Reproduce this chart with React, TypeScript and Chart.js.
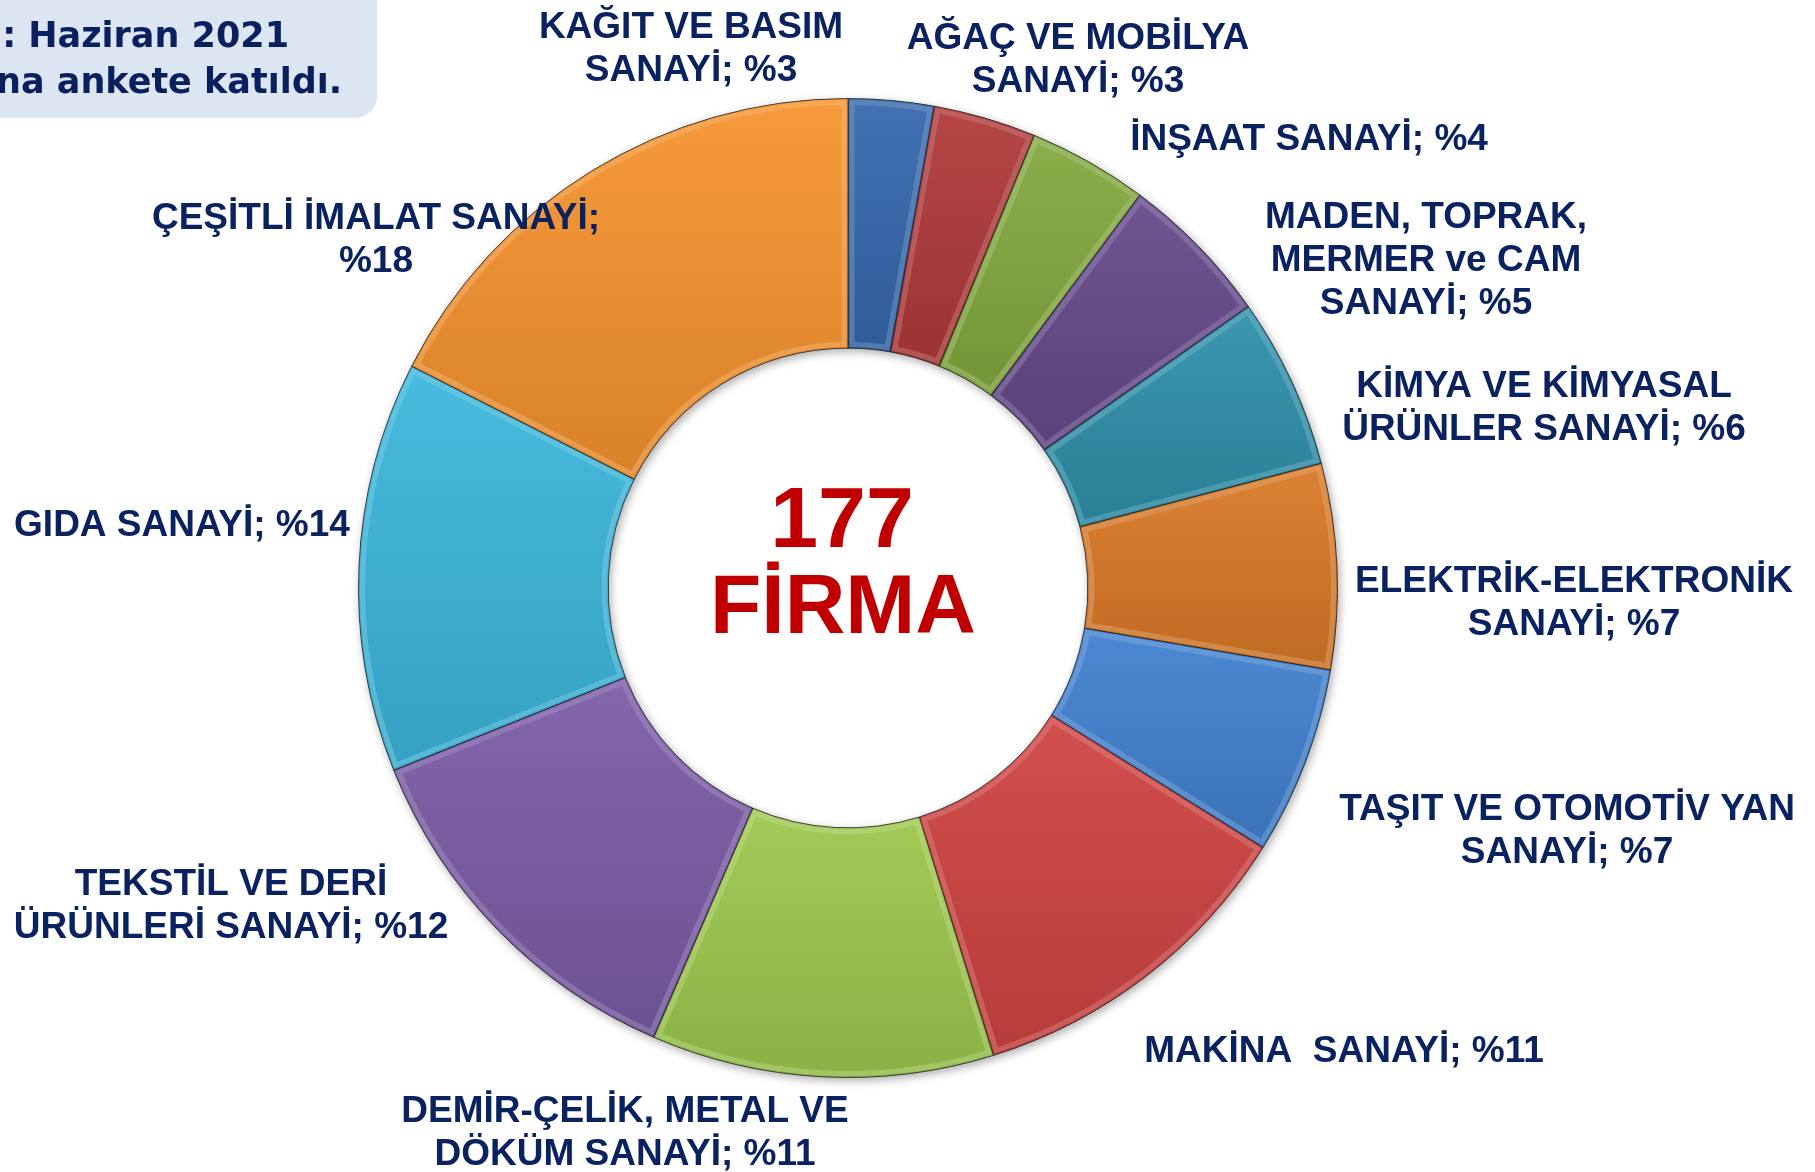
import React, { useEffect, useRef } from "react";
import { Chart, registerables } from "chart.js";
Chart.register(...registerables);

// ---- data ----
const TOTAL_LABEL = "177";
const CENTER_WORD = "FİRMA";
const sectors = [
  "KAĞIT VE BASIM SANAYİ",
  "AĞAÇ VE MOBİLYA SANAYİ",
  "İNŞAAT SANAYİ",
  "MADEN, TOPRAK, MERMER ve CAM SANAYİ",
  "KİMYA VE KİMYASAL ÜRÜNLER SANAYİ",
  "ELEKTRİK-ELEKTRONİK SANAYİ",
  "TAŞIT VE OTOMOTİV YAN SANAYİ",
  "MAKİNA SANAYİ",
  "DEMİR-ÇELİK, METAL VE DÖKÜM SANAYİ",
  "TEKSTİL VE DERİ ÜRÜNLERİ SANAYİ",
  "GIDA SANAYİ",
  "ÇEŞİTLİ İMALAT SANAYİ",
];
const firmCounts = [5, 6, 7, 9, 10, 12, 11, 20, 20, 22, 24, 31];
const percentLabels = [3, 3, 4, 5, 6, 7, 7, 11, 11, 12, 14, 18];
const labelLines = [
  ["KAĞIT VE BASIM", "SANAYİ; {p}"],
  ["AĞAÇ VE MOBİLYA", "SANAYİ; {p}"],
  ["İNŞAAT SANAYİ; {p}"],
  ["MADEN, TOPRAK,", "MERMER ve CAM", "SANAYİ; {p}"],
  ["KİMYA VE KİMYASAL", "ÜRÜNLER SANAYİ; {p}"],
  ["ELEKTRİK-ELEKTRONİK", "SANAYİ; {p}"],
  ["TAŞIT VE OTOMOTİV YAN", "SANAYİ; {p}"],
  ["MAKİNA  SANAYİ; {p}"],
  ["DEMİR-ÇELİK, METAL VE", "DÖKÜM SANAYİ; {p}"],
  ["TEKSTİL VE DERİ", "ÜRÜNLERİ SANAYİ; {p}"],
  ["GIDA SANAYİ; {p}"],
  ["ÇEŞİTLİ İMALAT SANAYİ;", "{p}"],
];
const infoLines = [": Haziran 2021", "na ankete katıldı."];

// ---- styles / layout ----
const sliceColors = [
  "#3669AD", "#B03A3A", "#84A93F", "#664A8C", "#2F90AB", "#D97A27",
  "#4281D0", "#CF4442", "#9EC84E", "#7B5CA6", "#3CB7DC", "#F6942F",
];
// label anchor positions (center of first line cap height), layout only
const labelPos = [
  [691, 25], [1078, 36], [1309, 137], [1426, 215], [1544, 384], [1574, 579],
  [1567, 807], [1344, 1049], [625, 1109], [231, 882], [182, 523], [376, 216],
];
const LABEL_FONT = 37;
const LINE_H = 43;
const TEXT_COLOR = "#0B2260";

function shade(hex: string, amt: number) {
  const n = parseInt(hex.slice(1), 16);
  let r = (n >> 16) & 255, g = (n >> 8) & 255, b = n & 255;
  const f = (c: number) =>
    Math.max(0, Math.min(255, Math.round(amt >= 0 ? c + (255 - c) * amt : c * (1 + amt))));
  return `rgb(${f(r)},${f(g)},${f(b)})`;
}

const shadowPlugin = {
  id: "ringShadow",
  beforeDatasetsDraw(chart: any) {
    const meta = chart.getDatasetMeta(0);
    const a = meta.data[0];
    if (!a) return;
    const { x, y, innerRadius, outerRadius } = a.getProps(["x", "y", "innerRadius", "outerRadius"], true);
    const ctx = chart.ctx;
    ctx.save();
    ctx.shadowColor = "rgba(0,0,0,0.35)";
    ctx.shadowBlur = 10;
    ctx.shadowOffsetX = 2;
    ctx.shadowOffsetY = 3;
    ctx.beginPath();
    ctx.arc(x, y, outerRadius, 0, Math.PI * 2);
    ctx.arc(x, y, innerRadius, Math.PI * 2, 0, true);
    ctx.closePath();
    ctx.fillStyle = "#888";
    ctx.fill();
    ctx.restore();
  },
};

const bevelPlugin = {
  id: "bevel",
  afterDatasetsDraw(chart: any) {
    const meta = chart.getDatasetMeta(0);
    const ctx = chart.ctx;
    meta.data.forEach((arc: any, i: number) => {
      const { x, y, startAngle, endAngle, innerRadius, outerRadius } = arc.getProps(
        ["x", "y", "startAngle", "endAngle", "innerRadius", "outerRadius"], true);
      const inset = 4;
      const ro = outerRadius - inset, ri = innerRadius + inset;
      ctx.save();
      ctx.beginPath();
      ctx.arc(x, y, ro, startAngle + inset / ro, endAngle - inset / ro);
      ctx.arc(x, y, ri, endAngle - inset / ri, startAngle + inset / ri, true);
      ctx.closePath();
      ctx.strokeStyle = shade(sliceColors[i], 0.35);
      ctx.globalAlpha = 0.45;
      ctx.lineWidth = 5;
      ctx.stroke();
      ctx.restore();
    });
  },
};

const textPlugin = {
  id: "texts",
  afterDraw(chart: any) {
    const ctx = chart.ctx;
    ctx.save();
    // info box (top-left, cut off by the page edge)
    ctx.fillStyle = "#DCE6F2";
    ctx.beginPath();
    (ctx as any).roundRect(-30, -30, 407, 148, 22);
    ctx.fill();
    ctx.fillStyle = "#0A1F5E";
    ctx.font = "bold 35px 'DejaVu Sans', Verdana, sans-serif";
    ctx.textAlign = "right";
    ctx.textBaseline = "alphabetic";
    ctx.fillText(infoLines[0], 289, 47);
    ctx.fillText(infoLines[1], 342, 93);

    // slice labels
    ctx.fillStyle = TEXT_COLOR;
    ctx.font = `bold ${LABEL_FONT}px 'Liberation Sans', Arial, sans-serif`;
    ctx.textAlign = "center";
    labelLines.forEach((lines, i) => {
      const [lx, ly] = labelPos[i];
      lines.forEach((ln, k) => {
        const t = ln.replace("{p}", "%" + percentLabels[i]);
        ctx.fillText(t, lx, ly + k * LINE_H + LABEL_FONT * 0.358);
      });
    });

    // center text
    const meta = chart.getDatasetMeta(0);
    const a = meta.data[0];
    const cx = a ? a.x : 848;
    ctx.fillStyle = "#C00000";
    ctx.font = "bold 86px 'Liberation Sans', Arial, sans-serif";
    ctx.fillText(TOTAL_LABEL, cx - 6, 547);
    ctx.font = "bold 84px 'Liberation Sans', Arial, sans-serif";
    ctx.fillText(CENTER_WORD, cx - 5, 633);
    ctx.restore();
  },
};

export default function App() {
  const ref = useRef<HTMLCanvasElement | null>(null);
  useEffect(() => {
    if (!ref.current) return;
    const total = firmCounts.reduce((s, v) => s + v, 0);
    const bg = (c: any) => {
      const i = c.dataIndex;
      const chart = c.chart;
      const area = chart.chartArea;
      const base = sliceColors[i];
      if (!area || i === undefined) return base;
      const cx = (area.left + area.right) / 2;
      const cy = (area.top + area.bottom) / 2;
      const R = Math.min(area.width, area.height) / 2;
      const r = R * 0.49;
      let cum = 0;
      for (let k = 0; k < i; k++) cum += firmCounts[k];
      const a0 = -Math.PI / 2 + (cum / total) * Math.PI * 2;
      const a1 = a0 + (firmCounts[i] / total) * Math.PI * 2;
      let yMin = Infinity, yMax = -Infinity;
      for (let s = 0; s <= 24; s++) {
        const ang = a0 + ((a1 - a0) * s) / 24;
        for (const rr of [r, R]) {
          const yy = cy + rr * Math.sin(ang);
          yMin = Math.min(yMin, yy);
          yMax = Math.max(yMax, yy);
        }
      }
      const g = chart.ctx.createLinearGradient(0, yMin, 0, yMax);
      g.addColorStop(0, shade(base, 0.06));
      g.addColorStop(1, shade(base, -0.12));
      return g;
    };
    const chart = new Chart(ref.current, {
      type: "doughnut",
      data: {
        labels: sectors,
        datasets: [
          {
            data: firmCounts,
            backgroundColor: bg as any,
            borderColor: "rgba(30,30,30,0.75)",
            borderWidth: 1,
            hoverOffset: 0,
          },
        ],
      },
      options: {
        responsive: false,
        animation: false,
        devicePixelRatio: 1,
        cutout: "49%",
        layout: { padding: { left: 358, right: 477, top: 98, bottom: 94 } },
        plugins: { legend: { display: false }, tooltip: { enabled: false } },
      },
      plugins: [shadowPlugin, bevelPlugin, textPlugin],
    });
    return () => chart.destroy();
  }, []);
  return (
    <div style={{ position: "fixed", left: 0, top: 0, width: 1815, height: 1172, background: "#fff", overflow: "hidden" }}>
      <canvas ref={ref} width={1815} height={1172} style={{ display: "block", width: 1815, height: 1172 }} />
    </div>
  );
}
